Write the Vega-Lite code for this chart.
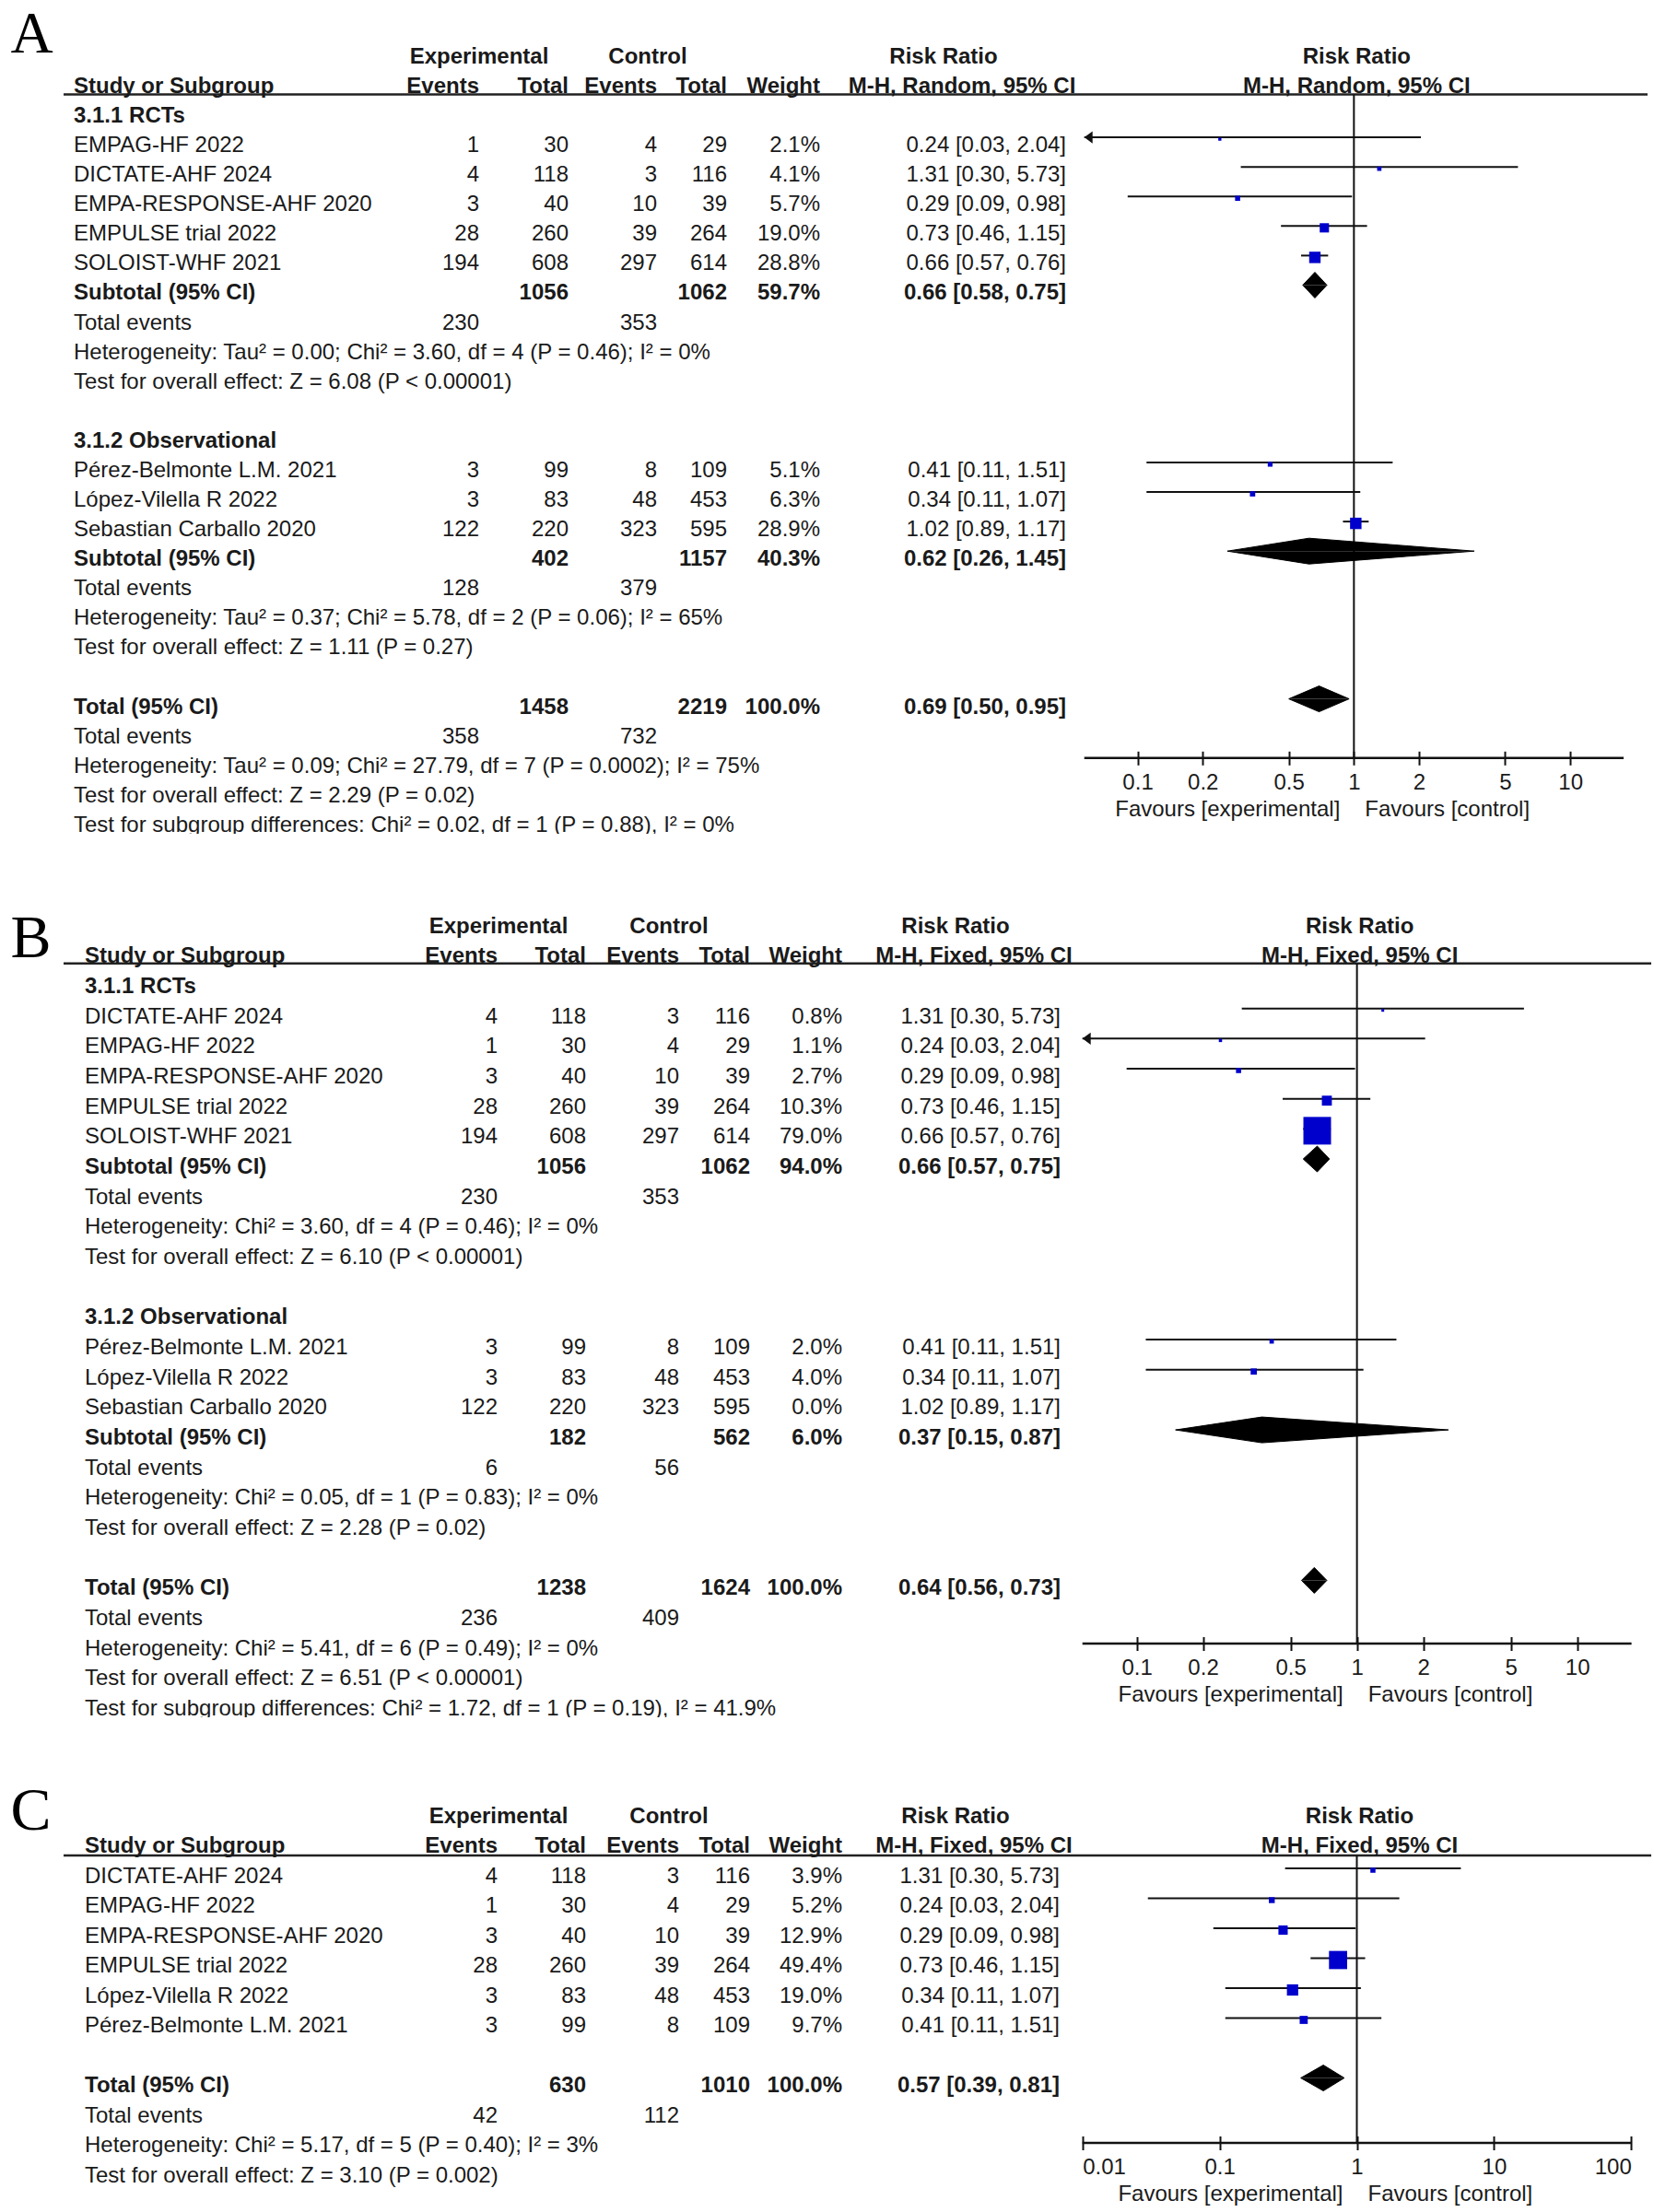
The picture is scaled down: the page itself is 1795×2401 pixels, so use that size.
{
"$schema":"https://vega.github.io/schema/vega-lite/v6.json",
"background":"white","padding":0,"bounds":"flush","spacing":0,
"resolve":{"scale":{"size":"independent","yOffset":"independent"}},
"config":{"view":{"stroke":null},"text":{"font":"Liberation Sans","fontSize":24,"color":"#1a1a1a","baseline":"alphabetic","dy":16}},
"datasets":{
"A":[
{"r":0,"k":"grp","l":"3.1.1 RCTs"},
{"r":1,"k":"st","l":"EMPAG-HF 2022","ee":1,"et":30,"ce":4,"ct":29,"w":0.021,"ci":"0.24 [0.03, 2.04]","rr":0.24,"lo":0.03,"hi":2.04},
{"r":2,"k":"st","l":"DICTATE-AHF 2024","ee":4,"et":118,"ce":3,"ct":116,"w":0.041,"ci":"1.31 [0.30, 5.73]","rr":1.31,"lo":0.30,"hi":5.73},
{"r":3,"k":"st","l":"EMPA-RESPONSE-AHF 2020","ee":3,"et":40,"ce":10,"ct":39,"w":0.057,"ci":"0.29 [0.09, 0.98]","rr":0.29,"lo":0.09,"hi":0.98},
{"r":4,"k":"st","l":"EMPULSE trial 2022","ee":28,"et":260,"ce":39,"ct":264,"w":0.19,"ci":"0.73 [0.46, 1.15]","rr":0.73,"lo":0.46,"hi":1.15},
{"r":5,"k":"st","l":"SOLOIST-WHF 2021","ee":194,"et":608,"ce":297,"ct":614,"w":0.288,"ci":"0.66 [0.57, 0.76]","rr":0.66,"lo":0.57,"hi":0.76},
{"r":6,"k":"sub","l":"Subtotal (95% CI)","et":1056,"ct":1062,"w":0.597,"ci":"0.66 [0.58, 0.75]"},
{"r":7,"k":"ev","l":"Total events","ee":230,"ce":353},
{"r":8,"k":"nt","l":"Heterogeneity: Tau² = 0.00; Chi² = 3.60, df = 4 (P = 0.46); I² = 0%"},
{"r":9,"k":"nt","l":"Test for overall effect: Z = 6.08 (P < 0.00001)"},
{"r":11,"k":"grp","l":"3.1.2 Observational"},
{"r":12,"k":"st","l":"Pérez-Belmonte L.M. 2021","ee":3,"et":99,"ce":8,"ct":109,"w":0.051,"ci":"0.41 [0.11, 1.51]","rr":0.41,"lo":0.11,"hi":1.51},
{"r":13,"k":"st","l":"López-Vilella R 2022","ee":3,"et":83,"ce":48,"ct":453,"w":0.063,"ci":"0.34 [0.11, 1.07]","rr":0.34,"lo":0.11,"hi":1.07},
{"r":14,"k":"st","l":"Sebastian Carballo 2020","ee":122,"et":220,"ce":323,"ct":595,"w":0.289,"ci":"1.02 [0.89, 1.17]","rr":1.02,"lo":0.89,"hi":1.17},
{"r":15,"k":"sub","l":"Subtotal (95% CI)","et":402,"ct":1157,"w":0.403,"ci":"0.62 [0.26, 1.45]"},
{"r":16,"k":"ev","l":"Total events","ee":128,"ce":379},
{"r":17,"k":"nt","l":"Heterogeneity: Tau² = 0.37; Chi² = 5.78, df = 2 (P = 0.06); I² = 65%"},
{"r":18,"k":"nt","l":"Test for overall effect: Z = 1.11 (P = 0.27)"},
{"r":20,"k":"tot","l":"Total (95% CI)","et":1458,"ct":2219,"w":1.0,"ci":"0.69 [0.50, 0.95]"},
{"r":21,"k":"ev","l":"Total events","ee":358,"ce":732},
{"r":22,"k":"nt","l":"Heterogeneity: Tau² = 0.09; Chi² = 27.79, df = 7 (P = 0.0002); I² = 75%"},
{"r":23,"k":"nt","l":"Test for overall effect: Z = 2.29 (P = 0.02)"},
{"r":24,"k":"nt","l":"Test for subgroup differences: Chi² = 0.02, df = 1 (P = 0.88), I² = 0%"}
],
"B":[
{"r":0,"k":"grp","l":"3.1.1 RCTs"},
{"r":1,"k":"st","l":"DICTATE-AHF 2024","ee":4,"et":118,"ce":3,"ct":116,"w":0.008,"ci":"1.31 [0.30, 5.73]","rr":1.31,"lo":0.30,"hi":5.73},
{"r":2,"k":"st","l":"EMPAG-HF 2022","ee":1,"et":30,"ce":4,"ct":29,"w":0.011,"ci":"0.24 [0.03, 2.04]","rr":0.24,"lo":0.03,"hi":2.04},
{"r":3,"k":"st","l":"EMPA-RESPONSE-AHF 2020","ee":3,"et":40,"ce":10,"ct":39,"w":0.027,"ci":"0.29 [0.09, 0.98]","rr":0.29,"lo":0.09,"hi":0.98},
{"r":4,"k":"st","l":"EMPULSE trial 2022","ee":28,"et":260,"ce":39,"ct":264,"w":0.103,"ci":"0.73 [0.46, 1.15]","rr":0.73,"lo":0.46,"hi":1.15},
{"r":5,"k":"st","l":"SOLOIST-WHF 2021","ee":194,"et":608,"ce":297,"ct":614,"w":0.79,"ci":"0.66 [0.57, 0.76]","rr":0.66,"lo":0.57,"hi":0.76},
{"r":6,"k":"sub","l":"Subtotal (95% CI)","et":1056,"ct":1062,"w":0.94,"ci":"0.66 [0.57, 0.75]"},
{"r":7,"k":"ev","l":"Total events","ee":230,"ce":353},
{"r":8,"k":"nt","l":"Heterogeneity: Chi² = 3.60, df = 4 (P = 0.46); I² = 0%"},
{"r":9,"k":"nt","l":"Test for overall effect: Z = 6.10 (P < 0.00001)"},
{"r":11,"k":"grp","l":"3.1.2 Observational"},
{"r":12,"k":"st","l":"Pérez-Belmonte L.M. 2021","ee":3,"et":99,"ce":8,"ct":109,"w":0.02,"ci":"0.41 [0.11, 1.51]","rr":0.41,"lo":0.11,"hi":1.51},
{"r":13,"k":"st","l":"López-Vilella R 2022","ee":3,"et":83,"ce":48,"ct":453,"w":0.04,"ci":"0.34 [0.11, 1.07]","rr":0.34,"lo":0.11,"hi":1.07},
{"r":14,"k":"st","l":"Sebastian Carballo 2020","ee":122,"et":220,"ce":323,"ct":595,"w":0.0,"ci":"1.02 [0.89, 1.17]","rr":1.02,"lo":0.89,"hi":1.17},
{"r":15,"k":"sub","l":"Subtotal (95% CI)","et":182,"ct":562,"w":0.06,"ci":"0.37 [0.15, 0.87]"},
{"r":16,"k":"ev","l":"Total events","ee":6,"ce":56},
{"r":17,"k":"nt","l":"Heterogeneity: Chi² = 0.05, df = 1 (P = 0.83); I² = 0%"},
{"r":18,"k":"nt","l":"Test for overall effect: Z = 2.28 (P = 0.02)"},
{"r":20,"k":"tot","l":"Total (95% CI)","et":1238,"ct":1624,"w":1.0,"ci":"0.64 [0.56, 0.73]"},
{"r":21,"k":"ev","l":"Total events","ee":236,"ce":409},
{"r":22,"k":"nt","l":"Heterogeneity: Chi² = 5.41, df = 6 (P = 0.49); I² = 0%"},
{"r":23,"k":"nt","l":"Test for overall effect: Z = 6.51 (P < 0.00001)"},
{"r":24,"k":"nt","l":"Test for subgroup differences: Chi² = 1.72, df = 1 (P = 0.19), I² = 41.9%"}
],
"C":[
{"r":0,"k":"st","l":"DICTATE-AHF 2024","ee":4,"et":118,"ce":3,"ct":116,"w":0.039,"ci":"1.31 [0.30, 5.73]","rr":1.31,"lo":0.30,"hi":5.73},
{"r":1,"k":"st","l":"EMPAG-HF 2022","ee":1,"et":30,"ce":4,"ct":29,"w":0.052,"ci":"0.24 [0.03, 2.04]","rr":0.24,"lo":0.03,"hi":2.04},
{"r":2,"k":"st","l":"EMPA-RESPONSE-AHF 2020","ee":3,"et":40,"ce":10,"ct":39,"w":0.129,"ci":"0.29 [0.09, 0.98]","rr":0.29,"lo":0.09,"hi":0.98},
{"r":3,"k":"st","l":"EMPULSE trial 2022","ee":28,"et":260,"ce":39,"ct":264,"w":0.494,"ci":"0.73 [0.46, 1.15]","rr":0.73,"lo":0.46,"hi":1.15},
{"r":4,"k":"st","l":"López-Vilella R 2022","ee":3,"et":83,"ce":48,"ct":453,"w":0.19,"ci":"0.34 [0.11, 1.07]","rr":0.34,"lo":0.11,"hi":1.07},
{"r":5,"k":"st","l":"Pérez-Belmonte L.M. 2021","ee":3,"et":99,"ce":8,"ct":109,"w":0.097,"ci":"0.41 [0.11, 1.51]","rr":0.41,"lo":0.11,"hi":1.51},
{"r":7,"k":"tot","l":"Total (95% CI)","et":630,"ct":1010,"w":1.0,"ci":"0.57 [0.39, 0.81]"},
{"r":8,"k":"ev","l":"Total events","ee":42,"ce":112},
{"r":9,"k":"nt","l":"Heterogeneity: Chi² = 5.17, df = 5 (P = 0.40); I² = 3%"},
{"r":10,"k":"nt","l":"Test for overall effect: Z = 3.10 (P = 0.002)"}
],
"dA":[
{"r":6,"v":"end","x":0.58},{"r":6,"v":"apex","x":0.66},{"r":6,"v":"end","x":0.75},
{"r":15,"v":"end","x":0.26},{"r":15,"v":"apex","x":0.62},{"r":15,"v":"end","x":3.6},
{"r":20,"v":"end","x":0.50},{"r":20,"v":"apex","x":0.69},{"r":20,"v":"end","x":0.95}
],
"dB":[
{"r":6,"v":"end","x":0.57},{"r":6,"v":"apex","x":0.66},{"r":6,"v":"end","x":0.75},
{"r":15,"v":"end","x":0.15},{"r":15,"v":"apex","x":0.37},{"r":15,"v":"end","x":2.6},
{"r":20,"v":"end","x":0.56},{"r":20,"v":"apex","x":0.64},{"r":20,"v":"end","x":0.73}
],
"dC":[
{"r":7,"v":"end","x":0.39},{"r":7,"v":"apex","x":0.57},{"r":7,"v":"end","x":0.81}
]
},
"vconcat":[
{
"width":1795,"height":905,"data":{"name":"A"},
"resolve":{"scale":{"x":"independent","y":"independent"},"axis":{"x":"independent","y":"independent"}},
"layer":[
{"layer":[
{"data":{"values":[{}]},"mark":{"type":"rule","strokeWidth":2.5,"color":"#222222"},"encoding":{"x":{"datum":0,"type":"quantitative","scale":{"domain":[0,1,2,3,4,5,6,7,8,9,10,11,12,13],"range":[69,80,520,617,713,789,890,1157,520,703,1024,1044,1788,11.5],"nice":false,"zero":false},"axis":null},"x2":{"datum":12},"y":{"datum":-0.45,"type":"quantitative","scale":{"domain":[-3.647,24.564],"reverse":true,"nice":false,"zero":false},"axis":null}}},
{"data":{"values":[{}]},"mark":{"type":"text","align":"left","font":"Liberation Serif","fontSize":64,"dy":0,"color":"#000000"},"encoding":{"x":{"datum":13,"type":"quantitative","scale":{"domain":[0,1,2,3,4,5,6,7,8,9,10,11,12,13],"range":[69,80,520,617,713,789,890,1157,520,703,1024,1044,1788,11.5],"nice":false,"zero":false},"axis":null},"y":{"datum":-1.87,"type":"quantitative","scale":{"domain":[-3.647,24.564],"reverse":true,"nice":false,"zero":false},"axis":null},"text":{"value":"A"}}},
{"data":{"values":[{}]},"mark":{"type":"text","align":"center","fontWeight":"bold"},"encoding":{"x":{"datum":8,"type":"quantitative","scale":{"domain":[0,1,2,3,4,5,6,7,8,9,10,11,12,13],"range":[69,80,520,617,713,789,890,1157,520,703,1024,1044,1788,11.5],"nice":false,"zero":false},"axis":null},"y":{"datum":-2,"type":"quantitative","scale":{"domain":[-3.647,24.564],"reverse":true,"nice":false,"zero":false},"axis":null},"text":{"value":"Experimental"}}},
{"data":{"values":[{}]},"mark":{"type":"text","align":"center","fontWeight":"bold"},"encoding":{"x":{"datum":9,"type":"quantitative","scale":{"domain":[0,1,2,3,4,5,6,7,8,9,10,11,12,13],"range":[69,80,520,617,713,789,890,1157,520,703,1024,1044,1788,11.5],"nice":false,"zero":false},"axis":null},"y":{"datum":-2,"type":"quantitative","scale":{"domain":[-3.647,24.564],"reverse":true,"nice":false,"zero":false},"axis":null},"text":{"value":"Control"}}},
{"data":{"values":[{}]},"mark":{"type":"text","align":"center","fontWeight":"bold"},"encoding":{"x":{"datum":10,"type":"quantitative","scale":{"domain":[0,1,2,3,4,5,6,7,8,9,10,11,12,13],"range":[69,80,520,617,713,789,890,1157,520,703,1024,1044,1788,11.5],"nice":false,"zero":false},"axis":null},"y":{"datum":-2,"type":"quantitative","scale":{"domain":[-3.647,24.564],"reverse":true,"nice":false,"zero":false},"axis":null},"text":{"value":"Risk Ratio"}}},
{"data":{"values":[{}]},"mark":{"type":"text","align":"left","fontWeight":"bold"},"encoding":{"x":{"datum":1,"type":"quantitative","scale":{"domain":[0,1,2,3,4,5,6,7,8,9,10,11,12,13],"range":[69,80,520,617,713,789,890,1157,520,703,1024,1044,1788,11.5],"nice":false,"zero":false},"axis":null},"y":{"datum":-1,"type":"quantitative","scale":{"domain":[-3.647,24.564],"reverse":true,"nice":false,"zero":false},"axis":null},"text":{"value":"Study or Subgroup"}}},
{"data":{"values":[{}]},"mark":{"type":"text","align":"right","fontWeight":"bold"},"encoding":{"x":{"datum":2,"type":"quantitative","scale":{"domain":[0,1,2,3,4,5,6,7,8,9,10,11,12,13],"range":[69,80,520,617,713,789,890,1157,520,703,1024,1044,1788,11.5],"nice":false,"zero":false},"axis":null},"y":{"datum":-1,"type":"quantitative","scale":{"domain":[-3.647,24.564],"reverse":true,"nice":false,"zero":false},"axis":null},"text":{"value":"Events"}}},
{"data":{"values":[{}]},"mark":{"type":"text","align":"right","fontWeight":"bold"},"encoding":{"x":{"datum":3,"type":"quantitative","scale":{"domain":[0,1,2,3,4,5,6,7,8,9,10,11,12,13],"range":[69,80,520,617,713,789,890,1157,520,703,1024,1044,1788,11.5],"nice":false,"zero":false},"axis":null},"y":{"datum":-1,"type":"quantitative","scale":{"domain":[-3.647,24.564],"reverse":true,"nice":false,"zero":false},"axis":null},"text":{"value":"Total"}}},
{"data":{"values":[{}]},"mark":{"type":"text","align":"right","fontWeight":"bold"},"encoding":{"x":{"datum":4,"type":"quantitative","scale":{"domain":[0,1,2,3,4,5,6,7,8,9,10,11,12,13],"range":[69,80,520,617,713,789,890,1157,520,703,1024,1044,1788,11.5],"nice":false,"zero":false},"axis":null},"y":{"datum":-1,"type":"quantitative","scale":{"domain":[-3.647,24.564],"reverse":true,"nice":false,"zero":false},"axis":null},"text":{"value":"Events"}}},
{"data":{"values":[{}]},"mark":{"type":"text","align":"right","fontWeight":"bold"},"encoding":{"x":{"datum":5,"type":"quantitative","scale":{"domain":[0,1,2,3,4,5,6,7,8,9,10,11,12,13],"range":[69,80,520,617,713,789,890,1157,520,703,1024,1044,1788,11.5],"nice":false,"zero":false},"axis":null},"y":{"datum":-1,"type":"quantitative","scale":{"domain":[-3.647,24.564],"reverse":true,"nice":false,"zero":false},"axis":null},"text":{"value":"Total"}}},
{"data":{"values":[{}]},"mark":{"type":"text","align":"right","fontWeight":"bold"},"encoding":{"x":{"datum":6,"type":"quantitative","scale":{"domain":[0,1,2,3,4,5,6,7,8,9,10,11,12,13],"range":[69,80,520,617,713,789,890,1157,520,703,1024,1044,1788,11.5],"nice":false,"zero":false},"axis":null},"y":{"datum":-1,"type":"quantitative","scale":{"domain":[-3.647,24.564],"reverse":true,"nice":false,"zero":false},"axis":null},"text":{"value":"Weight"}}},
{"data":{"values":[{}]},"mark":{"type":"text","align":"center","fontWeight":"bold"},"encoding":{"x":{"datum":11,"type":"quantitative","scale":{"domain":[0,1,2,3,4,5,6,7,8,9,10,11,12,13],"range":[69,80,520,617,713,789,890,1157,520,703,1024,1044,1788,11.5],"nice":false,"zero":false},"axis":null},"y":{"datum":-1,"type":"quantitative","scale":{"domain":[-3.647,24.564],"reverse":true,"nice":false,"zero":false},"axis":null},"text":{"value":"M-H, Random, 95% CI"}}},
{"transform":[{"filter":"datum.k=='st'||datum.k=='ev'||datum.k=='nt'"}],"mark":{"type":"text","align":"left","clip":true},"encoding":{"x":{"datum":1,"type":"quantitative","scale":{"domain":[0,1,2,3,4,5,6,7,8,9,10,11,12,13],"range":[69,80,520,617,713,789,890,1157,520,703,1024,1044,1788,11.5],"nice":false,"zero":false},"axis":null},"y":{"field":"r","type":"quantitative","scale":{"domain":[-3.647,24.564],"reverse":true,"nice":false,"zero":false},"axis":null},"text":{"field":"l","type":"nominal"}}},
{"transform":[{"filter":"datum.k=='grp'||datum.k=='sub'||datum.k=='tot'"}],"mark":{"type":"text","align":"left","fontWeight":"bold","clip":true},"encoding":{"x":{"datum":1,"type":"quantitative","scale":{"domain":[0,1,2,3,4,5,6,7,8,9,10,11,12,13],"range":[69,80,520,617,713,789,890,1157,520,703,1024,1044,1788,11.5],"nice":false,"zero":false},"axis":null},"y":{"field":"r","type":"quantitative","scale":{"domain":[-3.647,24.564],"reverse":true,"nice":false,"zero":false},"axis":null},"text":{"field":"l","type":"nominal"}}},
{"transform":[{"filter":"isValid(datum.ee)"}],"mark":{"type":"text","align":"right"},"encoding":{"x":{"datum":2,"type":"quantitative","scale":{"domain":[0,1,2,3,4,5,6,7,8,9,10,11,12,13],"range":[69,80,520,617,713,789,890,1157,520,703,1024,1044,1788,11.5],"nice":false,"zero":false},"axis":null},"y":{"field":"r","type":"quantitative","scale":{"domain":[-3.647,24.564],"reverse":true,"nice":false,"zero":false},"axis":null},"text":{"field":"ee","type":"nominal"}}},
{"transform":[{"filter":"datum.k=='st'"}],"mark":{"type":"text","align":"right"},"encoding":{"x":{"datum":3,"type":"quantitative","scale":{"domain":[0,1,2,3,4,5,6,7,8,9,10,11,12,13],"range":[69,80,520,617,713,789,890,1157,520,703,1024,1044,1788,11.5],"nice":false,"zero":false},"axis":null},"y":{"field":"r","type":"quantitative","scale":{"domain":[-3.647,24.564],"reverse":true,"nice":false,"zero":false},"axis":null},"text":{"field":"et","type":"nominal"}}},
{"transform":[{"filter":"datum.k=='sub'||datum.k=='tot'"}],"mark":{"type":"text","align":"right","fontWeight":"bold"},"encoding":{"x":{"datum":3,"type":"quantitative","scale":{"domain":[0,1,2,3,4,5,6,7,8,9,10,11,12,13],"range":[69,80,520,617,713,789,890,1157,520,703,1024,1044,1788,11.5],"nice":false,"zero":false},"axis":null},"y":{"field":"r","type":"quantitative","scale":{"domain":[-3.647,24.564],"reverse":true,"nice":false,"zero":false},"axis":null},"text":{"field":"et","type":"nominal"}}},
{"transform":[{"filter":"isValid(datum.ce)"}],"mark":{"type":"text","align":"right"},"encoding":{"x":{"datum":4,"type":"quantitative","scale":{"domain":[0,1,2,3,4,5,6,7,8,9,10,11,12,13],"range":[69,80,520,617,713,789,890,1157,520,703,1024,1044,1788,11.5],"nice":false,"zero":false},"axis":null},"y":{"field":"r","type":"quantitative","scale":{"domain":[-3.647,24.564],"reverse":true,"nice":false,"zero":false},"axis":null},"text":{"field":"ce","type":"nominal"}}},
{"transform":[{"filter":"datum.k=='st'"}],"mark":{"type":"text","align":"right"},"encoding":{"x":{"datum":5,"type":"quantitative","scale":{"domain":[0,1,2,3,4,5,6,7,8,9,10,11,12,13],"range":[69,80,520,617,713,789,890,1157,520,703,1024,1044,1788,11.5],"nice":false,"zero":false},"axis":null},"y":{"field":"r","type":"quantitative","scale":{"domain":[-3.647,24.564],"reverse":true,"nice":false,"zero":false},"axis":null},"text":{"field":"ct","type":"nominal"}}},
{"transform":[{"filter":"datum.k=='sub'||datum.k=='tot'"}],"mark":{"type":"text","align":"right","fontWeight":"bold"},"encoding":{"x":{"datum":5,"type":"quantitative","scale":{"domain":[0,1,2,3,4,5,6,7,8,9,10,11,12,13],"range":[69,80,520,617,713,789,890,1157,520,703,1024,1044,1788,11.5],"nice":false,"zero":false},"axis":null},"y":{"field":"r","type":"quantitative","scale":{"domain":[-3.647,24.564],"reverse":true,"nice":false,"zero":false},"axis":null},"text":{"field":"ct","type":"nominal"}}},
{"transform":[{"filter":"datum.k=='st'"}],"mark":{"type":"text","align":"right"},"encoding":{"x":{"datum":6,"type":"quantitative","scale":{"domain":[0,1,2,3,4,5,6,7,8,9,10,11,12,13],"range":[69,80,520,617,713,789,890,1157,520,703,1024,1044,1788,11.5],"nice":false,"zero":false},"axis":null},"y":{"field":"r","type":"quantitative","scale":{"domain":[-3.647,24.564],"reverse":true,"nice":false,"zero":false},"axis":null},"text":{"field":"w","type":"quantitative","format":".1%"}}},
{"transform":[{"filter":"datum.k=='sub'||datum.k=='tot'"}],"mark":{"type":"text","align":"right","fontWeight":"bold"},"encoding":{"x":{"datum":6,"type":"quantitative","scale":{"domain":[0,1,2,3,4,5,6,7,8,9,10,11,12,13],"range":[69,80,520,617,713,789,890,1157,520,703,1024,1044,1788,11.5],"nice":false,"zero":false},"axis":null},"y":{"field":"r","type":"quantitative","scale":{"domain":[-3.647,24.564],"reverse":true,"nice":false,"zero":false},"axis":null},"text":{"field":"w","type":"quantitative","format":".1%"}}},
{"transform":[{"filter":"datum.k=='st'"}],"mark":{"type":"text","align":"right"},"encoding":{"x":{"datum":7,"type":"quantitative","scale":{"domain":[0,1,2,3,4,5,6,7,8,9,10,11,12,13],"range":[69,80,520,617,713,789,890,1157,520,703,1024,1044,1788,11.5],"nice":false,"zero":false},"axis":null},"y":{"field":"r","type":"quantitative","scale":{"domain":[-3.647,24.564],"reverse":true,"nice":false,"zero":false},"axis":null},"text":{"field":"ci","type":"nominal"}}},
{"transform":[{"filter":"datum.k=='sub'||datum.k=='tot'"}],"mark":{"type":"text","align":"right","fontWeight":"bold"},"encoding":{"x":{"datum":7,"type":"quantitative","scale":{"domain":[0,1,2,3,4,5,6,7,8,9,10,11,12,13],"range":[69,80,520,617,713,789,890,1157,520,703,1024,1044,1788,11.5],"nice":false,"zero":false},"axis":null},"y":{"field":"r","type":"quantitative","scale":{"domain":[-3.647,24.564],"reverse":true,"nice":false,"zero":false},"axis":null},"text":{"field":"ci","type":"nominal"}}}
]},
{"layer":[
{"data":{"values":[{}]},"mark":{"type":"rule","strokeWidth":2,"color":"#111111"},"encoding":{"x":{"datum":1,"type":"quantitative","scale":{"type":"log","domain":[0.0567,17.64],"range":[1176.7,1762],"clamp":true,"nice":false},"axis":{"values":[0.1,0.2,0.5,1,2,5,10],"format":"~g","domain":false,"grid":false,"ticks":true,"tickSize":15,"tickWidth":2,"tickColor":"#111111","labelFont":"Liberation Sans","labelFontSize":24,"labelColor":"#1a1a1a","labelPadding":7,"labelFlush":2,"labelOverlap":false,"offset":-89.7,"title":null,"orient":"bottom"}},"y":{"datum":-0.45,"type":"quantitative","scale":{"domain":[-3.647,24.564],"reverse":true,"nice":false,"zero":false},"axis":null},"y2":{"datum":22.0}}},
{"data":{"values":[{}]},"mark":{"type":"rule","strokeWidth":2.5,"color":"#111111"},"encoding":{"x":{"datum":0.0567,"type":"quantitative","scale":{"type":"log","domain":[0.0567,17.64],"range":[1176.7,1762],"clamp":true,"nice":false},"axis":{"values":[0.1,0.2,0.5,1,2,5,10],"format":"~g","domain":false,"grid":false,"ticks":true,"tickSize":15,"tickWidth":2,"tickColor":"#111111","labelFont":"Liberation Sans","labelFontSize":24,"labelColor":"#1a1a1a","labelPadding":7,"labelFlush":2,"labelOverlap":false,"offset":-89.7,"title":null,"orient":"bottom"}},"x2":{"datum":17.64},"y":{"datum":22.0,"type":"quantitative","scale":{"domain":[-3.647,24.564],"reverse":true,"nice":false,"zero":false},"axis":null}}},
{"transform":[{"filter":"datum.k=='st'&&datum.w>0"}],"mark":{"type":"rule","strokeWidth":2,"color":"#111111"},"encoding":{"x":{"field":"lo","type":"quantitative","scale":{"type":"log","domain":[0.0567,17.64],"range":[1176.7,1762],"clamp":true,"nice":false},"axis":{"values":[0.1,0.2,0.5,1,2,5,10],"format":"~g","domain":false,"grid":false,"ticks":true,"tickSize":15,"tickWidth":2,"tickColor":"#111111","labelFont":"Liberation Sans","labelFontSize":24,"labelColor":"#1a1a1a","labelPadding":7,"labelFlush":2,"labelOverlap":false,"offset":-89.7,"title":null,"orient":"bottom"}},"x2":{"field":"hi"},"y":{"field":"r","type":"quantitative","scale":{"domain":[-3.647,24.564],"reverse":true,"nice":false,"zero":false},"axis":null}}},
{"transform":[{"filter":"datum.k=='st'&&datum.w>0"}],"mark":{"type":"square","filled":true,"color":"#0000cc","opacity":1,"yOffset":2},"encoding":{"x":{"field":"rr","type":"quantitative","scale":{"type":"log","domain":[0.0567,17.64],"range":[1176.7,1762],"clamp":true,"nice":false},"axis":{"values":[0.1,0.2,0.5,1,2,5,10],"format":"~g","domain":false,"grid":false,"ticks":true,"tickSize":15,"tickWidth":2,"tickColor":"#111111","labelFont":"Liberation Sans","labelFontSize":24,"labelColor":"#1a1a1a","labelPadding":7,"labelFlush":2,"labelOverlap":false,"offset":-89.7,"title":null,"orient":"bottom"}},"y":{"field":"r","type":"quantitative","scale":{"domain":[-3.647,24.564],"reverse":true,"nice":false,"zero":false},"axis":null},"size":{"field":"w","type":"quantitative","scale":{"domain":[0,0.3],"range":[0,160]},"legend":null}}},
{"transform":[{"filter":"datum.k=='st'&&datum.lo<0.0567"}],"mark":{"type":"point","shape":"M0,0L1.5,-1.1L1.5,1.1Z","filled":true,"color":"#111111","opacity":1,"size":144},"encoding":{"x":{"field":"lo","type":"quantitative","scale":{"type":"log","domain":[0.0567,17.64],"range":[1176.7,1762],"clamp":true,"nice":false},"axis":{"values":[0.1,0.2,0.5,1,2,5,10],"format":"~g","domain":false,"grid":false,"ticks":true,"tickSize":15,"tickWidth":2,"tickColor":"#111111","labelFont":"Liberation Sans","labelFontSize":24,"labelColor":"#1a1a1a","labelPadding":7,"labelFlush":2,"labelOverlap":false,"offset":-89.7,"title":null,"orient":"bottom"}},"y":{"field":"r","type":"quantitative","scale":{"domain":[-3.647,24.564],"reverse":true,"nice":false,"zero":false},"axis":null}}},
{"data":{"values":[{}]},"mark":{"type":"text","align":"center","fontWeight":"bold","dx":3},"encoding":{"x":{"datum":1,"type":"quantitative","scale":{"type":"log","domain":[0.0567,17.64],"range":[1176.7,1762],"clamp":true,"nice":false},"axis":{"values":[0.1,0.2,0.5,1,2,5,10],"format":"~g","domain":false,"grid":false,"ticks":true,"tickSize":15,"tickWidth":2,"tickColor":"#111111","labelFont":"Liberation Sans","labelFontSize":24,"labelColor":"#1a1a1a","labelPadding":7,"labelFlush":2,"labelOverlap":false,"offset":-89.7,"title":null,"orient":"bottom"}},"y":{"datum":-2,"type":"quantitative","scale":{"domain":[-3.647,24.564],"reverse":true,"nice":false,"zero":false},"axis":null},"text":{"value":"Risk Ratio"}}},
{"data":{"values":[{}]},"mark":{"type":"text","align":"center","fontWeight":"bold","dx":3},"encoding":{"x":{"datum":1,"type":"quantitative","scale":{"type":"log","domain":[0.0567,17.64],"range":[1176.7,1762],"clamp":true,"nice":false},"axis":{"values":[0.1,0.2,0.5,1,2,5,10],"format":"~g","domain":false,"grid":false,"ticks":true,"tickSize":15,"tickWidth":2,"tickColor":"#111111","labelFont":"Liberation Sans","labelFontSize":24,"labelColor":"#1a1a1a","labelPadding":7,"labelFlush":2,"labelOverlap":false,"offset":-89.7,"title":null,"orient":"bottom"}},"y":{"datum":-1,"type":"quantitative","scale":{"domain":[-3.647,24.564],"reverse":true,"nice":false,"zero":false},"axis":null},"text":{"value":"M-H, Random, 95% CI"}}},
{"data":{"values":[{}]},"mark":{"type":"text","align":"right","dx":-15,"dy":63},"encoding":{"x":{"datum":1,"type":"quantitative","scale":{"type":"log","domain":[0.0567,17.64],"range":[1176.7,1762],"clamp":true,"nice":false},"axis":{"values":[0.1,0.2,0.5,1,2,5,10],"format":"~g","domain":false,"grid":false,"ticks":true,"tickSize":15,"tickWidth":2,"tickColor":"#111111","labelFont":"Liberation Sans","labelFontSize":24,"labelColor":"#1a1a1a","labelPadding":7,"labelFlush":2,"labelOverlap":false,"offset":-89.7,"title":null,"orient":"bottom"}},"y":{"datum":22.0,"type":"quantitative","scale":{"domain":[-3.647,24.564],"reverse":true,"nice":false,"zero":false},"axis":null},"text":{"value":"Favours [experimental]"}}},
{"data":{"values":[{}]},"mark":{"type":"text","align":"left","dx":12,"dy":63},"encoding":{"x":{"datum":1,"type":"quantitative","scale":{"type":"log","domain":[0.0567,17.64],"range":[1176.7,1762],"clamp":true,"nice":false},"axis":{"values":[0.1,0.2,0.5,1,2,5,10],"format":"~g","domain":false,"grid":false,"ticks":true,"tickSize":15,"tickWidth":2,"tickColor":"#111111","labelFont":"Liberation Sans","labelFontSize":24,"labelColor":"#1a1a1a","labelPadding":7,"labelFlush":2,"labelOverlap":false,"offset":-89.7,"title":null,"orient":"bottom"}},"y":{"datum":22.0,"type":"quantitative","scale":{"domain":[-3.647,24.564],"reverse":true,"nice":false,"zero":false},"axis":null},"text":{"value":"Favours [control]"}}}
]},
{"data":{"name":"dA"},"resolve":{"scale":{"yOffset":"independent"}},"layer":[
{"mark":{"type":"line","color":"#000000","fill":"#000000","strokeWidth":1},"encoding":{"x":{"field":"x","type":"quantitative","scale":{"type":"log","domain":[0.0567,17.64],"range":[1176.7,1762],"clamp":true,"nice":false},"axis":null},"y":{"field":"r","type":"ordinal","scale":{"type":"point","domain":[0,1,2,3,4,5,6,7,8,9,10,11,12,13,14,15,16,17,18,19,20,21,22,23,24],"range":[117,886.9],"padding":0},"axis":null},"yOffset":{"field":"v","type":"nominal","scale":{"type":"point","domain":["end","apex"],"range":[0,-14],"padding":0}},"detail":{"field":"r","type":"nominal"},"order":{"field":"x","type":"quantitative"}}},
{"mark":{"type":"line","color":"#000000","fill":"#000000","strokeWidth":1},"encoding":{"x":{"field":"x","type":"quantitative","scale":{"type":"log","domain":[0.0567,17.64],"range":[1176.7,1762],"clamp":true,"nice":false},"axis":null},"y":{"field":"r","type":"ordinal","scale":{"type":"point","domain":[0,1,2,3,4,5,6,7,8,9,10,11,12,13,14,15,16,17,18,19,20,21,22,23,24],"range":[117,886.9],"padding":0},"axis":null},"yOffset":{"field":"v","type":"nominal","scale":{"type":"point","domain":["end","apex"],"range":[0,14],"padding":0}},"detail":{"field":"r","type":"nominal"},"order":{"field":"x","type":"quantitative"}}}
]}
]
},
{
"width":1795,"height":959,"data":{"name":"B"},
"resolve":{"scale":{"x":"independent","y":"independent"},"axis":{"x":"independent","y":"independent"}},
"layer":[
{"layer":[
{"data":{"values":[{}]},"mark":{"type":"rule","strokeWidth":2.5,"color":"#222222"},"encoding":{"x":{"datum":0,"type":"quantitative","scale":{"domain":[0,1,2,3,4,5,6,7,8,9,10,11,12,13],"range":[69,92,540,636,737,814,914,1151,541,726,1037,1057,1792,11.5],"nice":false,"zero":false},"axis":null},"x2":{"datum":12},"y":{"datum":-0.5,"type":"quantitative","scale":{"domain":[-4.806,24.548],"reverse":true,"nice":false,"zero":false},"axis":null}}},
{"data":{"values":[{}]},"mark":{"type":"text","align":"left","font":"Liberation Serif","fontSize":66,"dy":0,"color":"#000000"},"encoding":{"x":{"datum":13,"type":"quantitative","scale":{"domain":[0,1,2,3,4,5,6,7,8,9,10,11,12,13],"range":[69,92,540,636,737,814,914,1151,541,726,1037,1057,1792,11.5],"nice":false,"zero":false},"axis":null},"y":{"datum":-0.7,"type":"quantitative","scale":{"domain":[-4.806,24.548],"reverse":true,"nice":false,"zero":false},"axis":null},"text":{"value":"B"}}},
{"data":{"values":[{}]},"mark":{"type":"text","align":"center","fontWeight":"bold"},"encoding":{"x":{"datum":8,"type":"quantitative","scale":{"domain":[0,1,2,3,4,5,6,7,8,9,10,11,12,13],"range":[69,92,540,636,737,814,914,1151,541,726,1037,1057,1792,11.5],"nice":false,"zero":false},"axis":null},"y":{"datum":-2,"type":"quantitative","scale":{"domain":[-4.806,24.548],"reverse":true,"nice":false,"zero":false},"axis":null},"text":{"value":"Experimental"}}},
{"data":{"values":[{}]},"mark":{"type":"text","align":"center","fontWeight":"bold"},"encoding":{"x":{"datum":9,"type":"quantitative","scale":{"domain":[0,1,2,3,4,5,6,7,8,9,10,11,12,13],"range":[69,92,540,636,737,814,914,1151,541,726,1037,1057,1792,11.5],"nice":false,"zero":false},"axis":null},"y":{"datum":-2,"type":"quantitative","scale":{"domain":[-4.806,24.548],"reverse":true,"nice":false,"zero":false},"axis":null},"text":{"value":"Control"}}},
{"data":{"values":[{}]},"mark":{"type":"text","align":"center","fontWeight":"bold"},"encoding":{"x":{"datum":10,"type":"quantitative","scale":{"domain":[0,1,2,3,4,5,6,7,8,9,10,11,12,13],"range":[69,92,540,636,737,814,914,1151,541,726,1037,1057,1792,11.5],"nice":false,"zero":false},"axis":null},"y":{"datum":-2,"type":"quantitative","scale":{"domain":[-4.806,24.548],"reverse":true,"nice":false,"zero":false},"axis":null},"text":{"value":"Risk Ratio"}}},
{"data":{"values":[{}]},"mark":{"type":"text","align":"left","fontWeight":"bold"},"encoding":{"x":{"datum":1,"type":"quantitative","scale":{"domain":[0,1,2,3,4,5,6,7,8,9,10,11,12,13],"range":[69,92,540,636,737,814,914,1151,541,726,1037,1057,1792,11.5],"nice":false,"zero":false},"axis":null},"y":{"datum":-1,"type":"quantitative","scale":{"domain":[-4.806,24.548],"reverse":true,"nice":false,"zero":false},"axis":null},"text":{"value":"Study or Subgroup"}}},
{"data":{"values":[{}]},"mark":{"type":"text","align":"right","fontWeight":"bold"},"encoding":{"x":{"datum":2,"type":"quantitative","scale":{"domain":[0,1,2,3,4,5,6,7,8,9,10,11,12,13],"range":[69,92,540,636,737,814,914,1151,541,726,1037,1057,1792,11.5],"nice":false,"zero":false},"axis":null},"y":{"datum":-1,"type":"quantitative","scale":{"domain":[-4.806,24.548],"reverse":true,"nice":false,"zero":false},"axis":null},"text":{"value":"Events"}}},
{"data":{"values":[{}]},"mark":{"type":"text","align":"right","fontWeight":"bold"},"encoding":{"x":{"datum":3,"type":"quantitative","scale":{"domain":[0,1,2,3,4,5,6,7,8,9,10,11,12,13],"range":[69,92,540,636,737,814,914,1151,541,726,1037,1057,1792,11.5],"nice":false,"zero":false},"axis":null},"y":{"datum":-1,"type":"quantitative","scale":{"domain":[-4.806,24.548],"reverse":true,"nice":false,"zero":false},"axis":null},"text":{"value":"Total"}}},
{"data":{"values":[{}]},"mark":{"type":"text","align":"right","fontWeight":"bold"},"encoding":{"x":{"datum":4,"type":"quantitative","scale":{"domain":[0,1,2,3,4,5,6,7,8,9,10,11,12,13],"range":[69,92,540,636,737,814,914,1151,541,726,1037,1057,1792,11.5],"nice":false,"zero":false},"axis":null},"y":{"datum":-1,"type":"quantitative","scale":{"domain":[-4.806,24.548],"reverse":true,"nice":false,"zero":false},"axis":null},"text":{"value":"Events"}}},
{"data":{"values":[{}]},"mark":{"type":"text","align":"right","fontWeight":"bold"},"encoding":{"x":{"datum":5,"type":"quantitative","scale":{"domain":[0,1,2,3,4,5,6,7,8,9,10,11,12,13],"range":[69,92,540,636,737,814,914,1151,541,726,1037,1057,1792,11.5],"nice":false,"zero":false},"axis":null},"y":{"datum":-1,"type":"quantitative","scale":{"domain":[-4.806,24.548],"reverse":true,"nice":false,"zero":false},"axis":null},"text":{"value":"Total"}}},
{"data":{"values":[{}]},"mark":{"type":"text","align":"right","fontWeight":"bold"},"encoding":{"x":{"datum":6,"type":"quantitative","scale":{"domain":[0,1,2,3,4,5,6,7,8,9,10,11,12,13],"range":[69,92,540,636,737,814,914,1151,541,726,1037,1057,1792,11.5],"nice":false,"zero":false},"axis":null},"y":{"datum":-1,"type":"quantitative","scale":{"domain":[-4.806,24.548],"reverse":true,"nice":false,"zero":false},"axis":null},"text":{"value":"Weight"}}},
{"data":{"values":[{}]},"mark":{"type":"text","align":"center","fontWeight":"bold"},"encoding":{"x":{"datum":11,"type":"quantitative","scale":{"domain":[0,1,2,3,4,5,6,7,8,9,10,11,12,13],"range":[69,92,540,636,737,814,914,1151,541,726,1037,1057,1792,11.5],"nice":false,"zero":false},"axis":null},"y":{"datum":-1,"type":"quantitative","scale":{"domain":[-4.806,24.548],"reverse":true,"nice":false,"zero":false},"axis":null},"text":{"value":"M-H, Fixed, 95% CI"}}},
{"transform":[{"filter":"datum.k=='st'||datum.k=='ev'||datum.k=='nt'"}],"mark":{"type":"text","align":"left","clip":true},"encoding":{"x":{"datum":1,"type":"quantitative","scale":{"domain":[0,1,2,3,4,5,6,7,8,9,10,11,12,13],"range":[69,92,540,636,737,814,914,1151,541,726,1037,1057,1792,11.5],"nice":false,"zero":false},"axis":null},"y":{"field":"r","type":"quantitative","scale":{"domain":[-4.806,24.548],"reverse":true,"nice":false,"zero":false},"axis":null},"text":{"field":"l","type":"nominal"}}},
{"transform":[{"filter":"datum.k=='grp'||datum.k=='sub'||datum.k=='tot'"}],"mark":{"type":"text","align":"left","fontWeight":"bold","clip":true},"encoding":{"x":{"datum":1,"type":"quantitative","scale":{"domain":[0,1,2,3,4,5,6,7,8,9,10,11,12,13],"range":[69,92,540,636,737,814,914,1151,541,726,1037,1057,1792,11.5],"nice":false,"zero":false},"axis":null},"y":{"field":"r","type":"quantitative","scale":{"domain":[-4.806,24.548],"reverse":true,"nice":false,"zero":false},"axis":null},"text":{"field":"l","type":"nominal"}}},
{"transform":[{"filter":"isValid(datum.ee)"}],"mark":{"type":"text","align":"right"},"encoding":{"x":{"datum":2,"type":"quantitative","scale":{"domain":[0,1,2,3,4,5,6,7,8,9,10,11,12,13],"range":[69,92,540,636,737,814,914,1151,541,726,1037,1057,1792,11.5],"nice":false,"zero":false},"axis":null},"y":{"field":"r","type":"quantitative","scale":{"domain":[-4.806,24.548],"reverse":true,"nice":false,"zero":false},"axis":null},"text":{"field":"ee","type":"nominal"}}},
{"transform":[{"filter":"datum.k=='st'"}],"mark":{"type":"text","align":"right"},"encoding":{"x":{"datum":3,"type":"quantitative","scale":{"domain":[0,1,2,3,4,5,6,7,8,9,10,11,12,13],"range":[69,92,540,636,737,814,914,1151,541,726,1037,1057,1792,11.5],"nice":false,"zero":false},"axis":null},"y":{"field":"r","type":"quantitative","scale":{"domain":[-4.806,24.548],"reverse":true,"nice":false,"zero":false},"axis":null},"text":{"field":"et","type":"nominal"}}},
{"transform":[{"filter":"datum.k=='sub'||datum.k=='tot'"}],"mark":{"type":"text","align":"right","fontWeight":"bold"},"encoding":{"x":{"datum":3,"type":"quantitative","scale":{"domain":[0,1,2,3,4,5,6,7,8,9,10,11,12,13],"range":[69,92,540,636,737,814,914,1151,541,726,1037,1057,1792,11.5],"nice":false,"zero":false},"axis":null},"y":{"field":"r","type":"quantitative","scale":{"domain":[-4.806,24.548],"reverse":true,"nice":false,"zero":false},"axis":null},"text":{"field":"et","type":"nominal"}}},
{"transform":[{"filter":"isValid(datum.ce)"}],"mark":{"type":"text","align":"right"},"encoding":{"x":{"datum":4,"type":"quantitative","scale":{"domain":[0,1,2,3,4,5,6,7,8,9,10,11,12,13],"range":[69,92,540,636,737,814,914,1151,541,726,1037,1057,1792,11.5],"nice":false,"zero":false},"axis":null},"y":{"field":"r","type":"quantitative","scale":{"domain":[-4.806,24.548],"reverse":true,"nice":false,"zero":false},"axis":null},"text":{"field":"ce","type":"nominal"}}},
{"transform":[{"filter":"datum.k=='st'"}],"mark":{"type":"text","align":"right"},"encoding":{"x":{"datum":5,"type":"quantitative","scale":{"domain":[0,1,2,3,4,5,6,7,8,9,10,11,12,13],"range":[69,92,540,636,737,814,914,1151,541,726,1037,1057,1792,11.5],"nice":false,"zero":false},"axis":null},"y":{"field":"r","type":"quantitative","scale":{"domain":[-4.806,24.548],"reverse":true,"nice":false,"zero":false},"axis":null},"text":{"field":"ct","type":"nominal"}}},
{"transform":[{"filter":"datum.k=='sub'||datum.k=='tot'"}],"mark":{"type":"text","align":"right","fontWeight":"bold"},"encoding":{"x":{"datum":5,"type":"quantitative","scale":{"domain":[0,1,2,3,4,5,6,7,8,9,10,11,12,13],"range":[69,92,540,636,737,814,914,1151,541,726,1037,1057,1792,11.5],"nice":false,"zero":false},"axis":null},"y":{"field":"r","type":"quantitative","scale":{"domain":[-4.806,24.548],"reverse":true,"nice":false,"zero":false},"axis":null},"text":{"field":"ct","type":"nominal"}}},
{"transform":[{"filter":"datum.k=='st'"}],"mark":{"type":"text","align":"right"},"encoding":{"x":{"datum":6,"type":"quantitative","scale":{"domain":[0,1,2,3,4,5,6,7,8,9,10,11,12,13],"range":[69,92,540,636,737,814,914,1151,541,726,1037,1057,1792,11.5],"nice":false,"zero":false},"axis":null},"y":{"field":"r","type":"quantitative","scale":{"domain":[-4.806,24.548],"reverse":true,"nice":false,"zero":false},"axis":null},"text":{"field":"w","type":"quantitative","format":".1%"}}},
{"transform":[{"filter":"datum.k=='sub'||datum.k=='tot'"}],"mark":{"type":"text","align":"right","fontWeight":"bold"},"encoding":{"x":{"datum":6,"type":"quantitative","scale":{"domain":[0,1,2,3,4,5,6,7,8,9,10,11,12,13],"range":[69,92,540,636,737,814,914,1151,541,726,1037,1057,1792,11.5],"nice":false,"zero":false},"axis":null},"y":{"field":"r","type":"quantitative","scale":{"domain":[-4.806,24.548],"reverse":true,"nice":false,"zero":false},"axis":null},"text":{"field":"w","type":"quantitative","format":".1%"}}},
{"transform":[{"filter":"datum.k=='st'"}],"mark":{"type":"text","align":"right"},"encoding":{"x":{"datum":7,"type":"quantitative","scale":{"domain":[0,1,2,3,4,5,6,7,8,9,10,11,12,13],"range":[69,92,540,636,737,814,914,1151,541,726,1037,1057,1792,11.5],"nice":false,"zero":false},"axis":null},"y":{"field":"r","type":"quantitative","scale":{"domain":[-4.806,24.548],"reverse":true,"nice":false,"zero":false},"axis":null},"text":{"field":"ci","type":"nominal"}}},
{"transform":[{"filter":"datum.k=='sub'||datum.k=='tot'"}],"mark":{"type":"text","align":"right","fontWeight":"bold"},"encoding":{"x":{"datum":7,"type":"quantitative","scale":{"domain":[0,1,2,3,4,5,6,7,8,9,10,11,12,13],"range":[69,92,540,636,737,814,914,1151,541,726,1037,1057,1792,11.5],"nice":false,"zero":false},"axis":null},"y":{"field":"r","type":"quantitative","scale":{"domain":[-4.806,24.548],"reverse":true,"nice":false,"zero":false},"axis":null},"text":{"field":"ci","type":"nominal"}}}
]},
{"layer":[
{"data":{"values":[{}]},"mark":{"type":"rule","strokeWidth":2,"color":"#111111"},"encoding":{"x":{"datum":1,"type":"quantitative","scale":{"type":"log","domain":[0.0567,17.64],"range":[1174.7,1770.6],"clamp":true,"nice":false},"axis":{"values":[0.1,0.2,0.5,1,2,5,10],"format":"~g","domain":false,"grid":false,"ticks":true,"tickSize":15,"tickWidth":2,"tickColor":"#111111","labelFont":"Liberation Sans","labelFontSize":24,"labelColor":"#1a1a1a","labelPadding":7,"labelFlush":2,"labelOverlap":false,"offset":-87.5,"title":null,"orient":"bottom"}},"y":{"datum":-0.5,"type":"quantitative","scale":{"domain":[-4.806,24.548],"reverse":true,"nice":false,"zero":false},"axis":null},"y2":{"datum":22.1}}},
{"data":{"values":[{}]},"mark":{"type":"rule","strokeWidth":2.5,"color":"#111111"},"encoding":{"x":{"datum":0.0567,"type":"quantitative","scale":{"type":"log","domain":[0.0567,17.64],"range":[1174.7,1770.6],"clamp":true,"nice":false},"axis":{"values":[0.1,0.2,0.5,1,2,5,10],"format":"~g","domain":false,"grid":false,"ticks":true,"tickSize":15,"tickWidth":2,"tickColor":"#111111","labelFont":"Liberation Sans","labelFontSize":24,"labelColor":"#1a1a1a","labelPadding":7,"labelFlush":2,"labelOverlap":false,"offset":-87.5,"title":null,"orient":"bottom"}},"x2":{"datum":17.64},"y":{"datum":22.1,"type":"quantitative","scale":{"domain":[-4.806,24.548],"reverse":true,"nice":false,"zero":false},"axis":null}}},
{"transform":[{"filter":"datum.k=='st'&&datum.w>0"}],"mark":{"type":"rule","strokeWidth":2,"color":"#111111"},"encoding":{"x":{"field":"lo","type":"quantitative","scale":{"type":"log","domain":[0.0567,17.64],"range":[1174.7,1770.6],"clamp":true,"nice":false},"axis":{"values":[0.1,0.2,0.5,1,2,5,10],"format":"~g","domain":false,"grid":false,"ticks":true,"tickSize":15,"tickWidth":2,"tickColor":"#111111","labelFont":"Liberation Sans","labelFontSize":24,"labelColor":"#1a1a1a","labelPadding":7,"labelFlush":2,"labelOverlap":false,"offset":-87.5,"title":null,"orient":"bottom"}},"x2":{"field":"hi"},"y":{"field":"r","type":"quantitative","scale":{"domain":[-4.806,24.548],"reverse":true,"nice":false,"zero":false},"axis":null}}},
{"transform":[{"filter":"datum.k=='st'&&datum.w>0"}],"mark":{"type":"square","filled":true,"color":"#0000cc","opacity":1,"yOffset":2},"encoding":{"x":{"field":"rr","type":"quantitative","scale":{"type":"log","domain":[0.0567,17.64],"range":[1174.7,1770.6],"clamp":true,"nice":false},"axis":{"values":[0.1,0.2,0.5,1,2,5,10],"format":"~g","domain":false,"grid":false,"ticks":true,"tickSize":15,"tickWidth":2,"tickColor":"#111111","labelFont":"Liberation Sans","labelFontSize":24,"labelColor":"#1a1a1a","labelPadding":7,"labelFlush":2,"labelOverlap":false,"offset":-87.5,"title":null,"orient":"bottom"}},"y":{"field":"r","type":"quantitative","scale":{"domain":[-4.806,24.548],"reverse":true,"nice":false,"zero":false},"axis":null},"size":{"field":"w","type":"quantitative","scale":{"domain":[0,0.79],"range":[0,900]},"legend":null}}},
{"transform":[{"filter":"datum.k=='st'&&datum.lo<0.0567"}],"mark":{"type":"point","shape":"M0,0L1.5,-1.1L1.5,1.1Z","filled":true,"color":"#111111","opacity":1,"size":144},"encoding":{"x":{"field":"lo","type":"quantitative","scale":{"type":"log","domain":[0.0567,17.64],"range":[1174.7,1770.6],"clamp":true,"nice":false},"axis":{"values":[0.1,0.2,0.5,1,2,5,10],"format":"~g","domain":false,"grid":false,"ticks":true,"tickSize":15,"tickWidth":2,"tickColor":"#111111","labelFont":"Liberation Sans","labelFontSize":24,"labelColor":"#1a1a1a","labelPadding":7,"labelFlush":2,"labelOverlap":false,"offset":-87.5,"title":null,"orient":"bottom"}},"y":{"field":"r","type":"quantitative","scale":{"domain":[-4.806,24.548],"reverse":true,"nice":false,"zero":false},"axis":null}}},
{"data":{"values":[{}]},"mark":{"type":"text","align":"center","fontWeight":"bold","dx":3},"encoding":{"x":{"datum":1,"type":"quantitative","scale":{"type":"log","domain":[0.0567,17.64],"range":[1174.7,1770.6],"clamp":true,"nice":false},"axis":{"values":[0.1,0.2,0.5,1,2,5,10],"format":"~g","domain":false,"grid":false,"ticks":true,"tickSize":15,"tickWidth":2,"tickColor":"#111111","labelFont":"Liberation Sans","labelFontSize":24,"labelColor":"#1a1a1a","labelPadding":7,"labelFlush":2,"labelOverlap":false,"offset":-87.5,"title":null,"orient":"bottom"}},"y":{"datum":-2,"type":"quantitative","scale":{"domain":[-4.806,24.548],"reverse":true,"nice":false,"zero":false},"axis":null},"text":{"value":"Risk Ratio"}}},
{"data":{"values":[{}]},"mark":{"type":"text","align":"center","fontWeight":"bold","dx":3},"encoding":{"x":{"datum":1,"type":"quantitative","scale":{"type":"log","domain":[0.0567,17.64],"range":[1174.7,1770.6],"clamp":true,"nice":false},"axis":{"values":[0.1,0.2,0.5,1,2,5,10],"format":"~g","domain":false,"grid":false,"ticks":true,"tickSize":15,"tickWidth":2,"tickColor":"#111111","labelFont":"Liberation Sans","labelFontSize":24,"labelColor":"#1a1a1a","labelPadding":7,"labelFlush":2,"labelOverlap":false,"offset":-87.5,"title":null,"orient":"bottom"}},"y":{"datum":-1,"type":"quantitative","scale":{"domain":[-4.806,24.548],"reverse":true,"nice":false,"zero":false},"axis":null},"text":{"value":"M-H, Fixed, 95% CI"}}},
{"data":{"values":[{}]},"mark":{"type":"text","align":"right","dx":-15,"dy":63},"encoding":{"x":{"datum":1,"type":"quantitative","scale":{"type":"log","domain":[0.0567,17.64],"range":[1174.7,1770.6],"clamp":true,"nice":false},"axis":{"values":[0.1,0.2,0.5,1,2,5,10],"format":"~g","domain":false,"grid":false,"ticks":true,"tickSize":15,"tickWidth":2,"tickColor":"#111111","labelFont":"Liberation Sans","labelFontSize":24,"labelColor":"#1a1a1a","labelPadding":7,"labelFlush":2,"labelOverlap":false,"offset":-87.5,"title":null,"orient":"bottom"}},"y":{"datum":22.1,"type":"quantitative","scale":{"domain":[-4.806,24.548],"reverse":true,"nice":false,"zero":false},"axis":null},"text":{"value":"Favours [experimental]"}}},
{"data":{"values":[{}]},"mark":{"type":"text","align":"left","dx":12,"dy":63},"encoding":{"x":{"datum":1,"type":"quantitative","scale":{"type":"log","domain":[0.0567,17.64],"range":[1174.7,1770.6],"clamp":true,"nice":false},"axis":{"values":[0.1,0.2,0.5,1,2,5,10],"format":"~g","domain":false,"grid":false,"ticks":true,"tickSize":15,"tickWidth":2,"tickColor":"#111111","labelFont":"Liberation Sans","labelFontSize":24,"labelColor":"#1a1a1a","labelPadding":7,"labelFlush":2,"labelOverlap":false,"offset":-87.5,"title":null,"orient":"bottom"}},"y":{"datum":22.1,"type":"quantitative","scale":{"domain":[-4.806,24.548],"reverse":true,"nice":false,"zero":false},"axis":null},"text":{"value":"Favours [control]"}}}
]},
{"data":{"name":"dB"},"resolve":{"scale":{"yOffset":"independent"}},"layer":[
{"mark":{"type":"line","color":"#000000","fill":"#000000","strokeWidth":1},"encoding":{"x":{"field":"x","type":"quantitative","scale":{"type":"log","domain":[0.0567,17.64],"range":[1174.7,1770.6],"clamp":true,"nice":false},"axis":null},"y":{"field":"r","type":"ordinal","scale":{"type":"point","domain":[0,1,2,3,4,5,6,7,8,9,10,11,12,13,14,15,16,17,18,19,20,21,22,23,24],"range":[157,941.1],"padding":0},"axis":null},"yOffset":{"field":"v","type":"nominal","scale":{"type":"point","domain":["end","apex"],"range":[0,-14],"padding":0}},"detail":{"field":"r","type":"nominal"},"order":{"field":"x","type":"quantitative"}}},
{"mark":{"type":"line","color":"#000000","fill":"#000000","strokeWidth":1},"encoding":{"x":{"field":"x","type":"quantitative","scale":{"type":"log","domain":[0.0567,17.64],"range":[1174.7,1770.6],"clamp":true,"nice":false},"axis":null},"y":{"field":"r","type":"ordinal","scale":{"type":"point","domain":[0,1,2,3,4,5,6,7,8,9,10,11,12,13,14,15,16,17,18,19,20,21,22,23,24],"range":[157,941.1],"padding":0},"axis":null},"yOffset":{"field":"v","type":"nominal","scale":{"type":"point","domain":["end","apex"],"range":[0,14],"padding":0}},"detail":{"field":"r","type":"nominal"},"order":{"field":"x","type":"quantitative"}}}
]}
]
},
{
"width":1795,"height":537,"data":{"name":"C"},
"resolve":{"scale":{"x":"independent","y":"independent"},"axis":{"x":"independent","y":"independent"}},
"layer":[
{"layer":[
{"data":{"values":[{}]},"mark":{"type":"rule","strokeWidth":2.5,"color":"#222222"},"encoding":{"x":{"datum":0,"type":"quantitative","scale":{"domain":[0,1,2,3,4,5,6,7,8,9,10,11,12,13],"range":[69,92,540,636,737,814,914,1150,541,726,1037,1057,1792,11.5],"nice":false,"zero":false},"axis":null},"x2":{"datum":12},"y":{"datum":-0.43,"type":"quantitative","scale":{"domain":[-5.046,11.477],"reverse":true,"nice":false,"zero":false},"axis":null}}},
{"data":{"values":[{}]},"mark":{"type":"text","align":"left","font":"Liberation Serif","fontSize":66,"dy":0,"color":"#000000"},"encoding":{"x":{"datum":13,"type":"quantitative","scale":{"domain":[0,1,2,3,4,5,6,7,8,9,10,11,12,13],"range":[69,92,540,636,737,814,914,1150,541,726,1037,1057,1792,11.5],"nice":false,"zero":false},"axis":null},"y":{"datum":-1.29,"type":"quantitative","scale":{"domain":[-5.046,11.477],"reverse":true,"nice":false,"zero":false},"axis":null},"text":{"value":"C"}}},
{"data":{"values":[{}]},"mark":{"type":"text","align":"center","fontWeight":"bold"},"encoding":{"x":{"datum":8,"type":"quantitative","scale":{"domain":[0,1,2,3,4,5,6,7,8,9,10,11,12,13],"range":[69,92,540,636,737,814,914,1150,541,726,1037,1057,1792,11.5],"nice":false,"zero":false},"axis":null},"y":{"datum":-2,"type":"quantitative","scale":{"domain":[-5.046,11.477],"reverse":true,"nice":false,"zero":false},"axis":null},"text":{"value":"Experimental"}}},
{"data":{"values":[{}]},"mark":{"type":"text","align":"center","fontWeight":"bold"},"encoding":{"x":{"datum":9,"type":"quantitative","scale":{"domain":[0,1,2,3,4,5,6,7,8,9,10,11,12,13],"range":[69,92,540,636,737,814,914,1150,541,726,1037,1057,1792,11.5],"nice":false,"zero":false},"axis":null},"y":{"datum":-2,"type":"quantitative","scale":{"domain":[-5.046,11.477],"reverse":true,"nice":false,"zero":false},"axis":null},"text":{"value":"Control"}}},
{"data":{"values":[{}]},"mark":{"type":"text","align":"center","fontWeight":"bold"},"encoding":{"x":{"datum":10,"type":"quantitative","scale":{"domain":[0,1,2,3,4,5,6,7,8,9,10,11,12,13],"range":[69,92,540,636,737,814,914,1150,541,726,1037,1057,1792,11.5],"nice":false,"zero":false},"axis":null},"y":{"datum":-2,"type":"quantitative","scale":{"domain":[-5.046,11.477],"reverse":true,"nice":false,"zero":false},"axis":null},"text":{"value":"Risk Ratio"}}},
{"data":{"values":[{}]},"mark":{"type":"text","align":"left","fontWeight":"bold"},"encoding":{"x":{"datum":1,"type":"quantitative","scale":{"domain":[0,1,2,3,4,5,6,7,8,9,10,11,12,13],"range":[69,92,540,636,737,814,914,1150,541,726,1037,1057,1792,11.5],"nice":false,"zero":false},"axis":null},"y":{"datum":-1,"type":"quantitative","scale":{"domain":[-5.046,11.477],"reverse":true,"nice":false,"zero":false},"axis":null},"text":{"value":"Study or Subgroup"}}},
{"data":{"values":[{}]},"mark":{"type":"text","align":"right","fontWeight":"bold"},"encoding":{"x":{"datum":2,"type":"quantitative","scale":{"domain":[0,1,2,3,4,5,6,7,8,9,10,11,12,13],"range":[69,92,540,636,737,814,914,1150,541,726,1037,1057,1792,11.5],"nice":false,"zero":false},"axis":null},"y":{"datum":-1,"type":"quantitative","scale":{"domain":[-5.046,11.477],"reverse":true,"nice":false,"zero":false},"axis":null},"text":{"value":"Events"}}},
{"data":{"values":[{}]},"mark":{"type":"text","align":"right","fontWeight":"bold"},"encoding":{"x":{"datum":3,"type":"quantitative","scale":{"domain":[0,1,2,3,4,5,6,7,8,9,10,11,12,13],"range":[69,92,540,636,737,814,914,1150,541,726,1037,1057,1792,11.5],"nice":false,"zero":false},"axis":null},"y":{"datum":-1,"type":"quantitative","scale":{"domain":[-5.046,11.477],"reverse":true,"nice":false,"zero":false},"axis":null},"text":{"value":"Total"}}},
{"data":{"values":[{}]},"mark":{"type":"text","align":"right","fontWeight":"bold"},"encoding":{"x":{"datum":4,"type":"quantitative","scale":{"domain":[0,1,2,3,4,5,6,7,8,9,10,11,12,13],"range":[69,92,540,636,737,814,914,1150,541,726,1037,1057,1792,11.5],"nice":false,"zero":false},"axis":null},"y":{"datum":-1,"type":"quantitative","scale":{"domain":[-5.046,11.477],"reverse":true,"nice":false,"zero":false},"axis":null},"text":{"value":"Events"}}},
{"data":{"values":[{}]},"mark":{"type":"text","align":"right","fontWeight":"bold"},"encoding":{"x":{"datum":5,"type":"quantitative","scale":{"domain":[0,1,2,3,4,5,6,7,8,9,10,11,12,13],"range":[69,92,540,636,737,814,914,1150,541,726,1037,1057,1792,11.5],"nice":false,"zero":false},"axis":null},"y":{"datum":-1,"type":"quantitative","scale":{"domain":[-5.046,11.477],"reverse":true,"nice":false,"zero":false},"axis":null},"text":{"value":"Total"}}},
{"data":{"values":[{}]},"mark":{"type":"text","align":"right","fontWeight":"bold"},"encoding":{"x":{"datum":6,"type":"quantitative","scale":{"domain":[0,1,2,3,4,5,6,7,8,9,10,11,12,13],"range":[69,92,540,636,737,814,914,1150,541,726,1037,1057,1792,11.5],"nice":false,"zero":false},"axis":null},"y":{"datum":-1,"type":"quantitative","scale":{"domain":[-5.046,11.477],"reverse":true,"nice":false,"zero":false},"axis":null},"text":{"value":"Weight"}}},
{"data":{"values":[{}]},"mark":{"type":"text","align":"center","fontWeight":"bold"},"encoding":{"x":{"datum":11,"type":"quantitative","scale":{"domain":[0,1,2,3,4,5,6,7,8,9,10,11,12,13],"range":[69,92,540,636,737,814,914,1150,541,726,1037,1057,1792,11.5],"nice":false,"zero":false},"axis":null},"y":{"datum":-1,"type":"quantitative","scale":{"domain":[-5.046,11.477],"reverse":true,"nice":false,"zero":false},"axis":null},"text":{"value":"M-H, Fixed, 95% CI"}}},
{"transform":[{"filter":"datum.k=='st'||datum.k=='ev'||datum.k=='nt'"}],"mark":{"type":"text","align":"left","clip":true},"encoding":{"x":{"datum":1,"type":"quantitative","scale":{"domain":[0,1,2,3,4,5,6,7,8,9,10,11,12,13],"range":[69,92,540,636,737,814,914,1150,541,726,1037,1057,1792,11.5],"nice":false,"zero":false},"axis":null},"y":{"field":"r","type":"quantitative","scale":{"domain":[-5.046,11.477],"reverse":true,"nice":false,"zero":false},"axis":null},"text":{"field":"l","type":"nominal"}}},
{"transform":[{"filter":"datum.k=='grp'||datum.k=='sub'||datum.k=='tot'"}],"mark":{"type":"text","align":"left","fontWeight":"bold","clip":true},"encoding":{"x":{"datum":1,"type":"quantitative","scale":{"domain":[0,1,2,3,4,5,6,7,8,9,10,11,12,13],"range":[69,92,540,636,737,814,914,1150,541,726,1037,1057,1792,11.5],"nice":false,"zero":false},"axis":null},"y":{"field":"r","type":"quantitative","scale":{"domain":[-5.046,11.477],"reverse":true,"nice":false,"zero":false},"axis":null},"text":{"field":"l","type":"nominal"}}},
{"transform":[{"filter":"isValid(datum.ee)"}],"mark":{"type":"text","align":"right"},"encoding":{"x":{"datum":2,"type":"quantitative","scale":{"domain":[0,1,2,3,4,5,6,7,8,9,10,11,12,13],"range":[69,92,540,636,737,814,914,1150,541,726,1037,1057,1792,11.5],"nice":false,"zero":false},"axis":null},"y":{"field":"r","type":"quantitative","scale":{"domain":[-5.046,11.477],"reverse":true,"nice":false,"zero":false},"axis":null},"text":{"field":"ee","type":"nominal"}}},
{"transform":[{"filter":"datum.k=='st'"}],"mark":{"type":"text","align":"right"},"encoding":{"x":{"datum":3,"type":"quantitative","scale":{"domain":[0,1,2,3,4,5,6,7,8,9,10,11,12,13],"range":[69,92,540,636,737,814,914,1150,541,726,1037,1057,1792,11.5],"nice":false,"zero":false},"axis":null},"y":{"field":"r","type":"quantitative","scale":{"domain":[-5.046,11.477],"reverse":true,"nice":false,"zero":false},"axis":null},"text":{"field":"et","type":"nominal"}}},
{"transform":[{"filter":"datum.k=='sub'||datum.k=='tot'"}],"mark":{"type":"text","align":"right","fontWeight":"bold"},"encoding":{"x":{"datum":3,"type":"quantitative","scale":{"domain":[0,1,2,3,4,5,6,7,8,9,10,11,12,13],"range":[69,92,540,636,737,814,914,1150,541,726,1037,1057,1792,11.5],"nice":false,"zero":false},"axis":null},"y":{"field":"r","type":"quantitative","scale":{"domain":[-5.046,11.477],"reverse":true,"nice":false,"zero":false},"axis":null},"text":{"field":"et","type":"nominal"}}},
{"transform":[{"filter":"isValid(datum.ce)"}],"mark":{"type":"text","align":"right"},"encoding":{"x":{"datum":4,"type":"quantitative","scale":{"domain":[0,1,2,3,4,5,6,7,8,9,10,11,12,13],"range":[69,92,540,636,737,814,914,1150,541,726,1037,1057,1792,11.5],"nice":false,"zero":false},"axis":null},"y":{"field":"r","type":"quantitative","scale":{"domain":[-5.046,11.477],"reverse":true,"nice":false,"zero":false},"axis":null},"text":{"field":"ce","type":"nominal"}}},
{"transform":[{"filter":"datum.k=='st'"}],"mark":{"type":"text","align":"right"},"encoding":{"x":{"datum":5,"type":"quantitative","scale":{"domain":[0,1,2,3,4,5,6,7,8,9,10,11,12,13],"range":[69,92,540,636,737,814,914,1150,541,726,1037,1057,1792,11.5],"nice":false,"zero":false},"axis":null},"y":{"field":"r","type":"quantitative","scale":{"domain":[-5.046,11.477],"reverse":true,"nice":false,"zero":false},"axis":null},"text":{"field":"ct","type":"nominal"}}},
{"transform":[{"filter":"datum.k=='sub'||datum.k=='tot'"}],"mark":{"type":"text","align":"right","fontWeight":"bold"},"encoding":{"x":{"datum":5,"type":"quantitative","scale":{"domain":[0,1,2,3,4,5,6,7,8,9,10,11,12,13],"range":[69,92,540,636,737,814,914,1150,541,726,1037,1057,1792,11.5],"nice":false,"zero":false},"axis":null},"y":{"field":"r","type":"quantitative","scale":{"domain":[-5.046,11.477],"reverse":true,"nice":false,"zero":false},"axis":null},"text":{"field":"ct","type":"nominal"}}},
{"transform":[{"filter":"datum.k=='st'"}],"mark":{"type":"text","align":"right"},"encoding":{"x":{"datum":6,"type":"quantitative","scale":{"domain":[0,1,2,3,4,5,6,7,8,9,10,11,12,13],"range":[69,92,540,636,737,814,914,1150,541,726,1037,1057,1792,11.5],"nice":false,"zero":false},"axis":null},"y":{"field":"r","type":"quantitative","scale":{"domain":[-5.046,11.477],"reverse":true,"nice":false,"zero":false},"axis":null},"text":{"field":"w","type":"quantitative","format":".1%"}}},
{"transform":[{"filter":"datum.k=='sub'||datum.k=='tot'"}],"mark":{"type":"text","align":"right","fontWeight":"bold"},"encoding":{"x":{"datum":6,"type":"quantitative","scale":{"domain":[0,1,2,3,4,5,6,7,8,9,10,11,12,13],"range":[69,92,540,636,737,814,914,1150,541,726,1037,1057,1792,11.5],"nice":false,"zero":false},"axis":null},"y":{"field":"r","type":"quantitative","scale":{"domain":[-5.046,11.477],"reverse":true,"nice":false,"zero":false},"axis":null},"text":{"field":"w","type":"quantitative","format":".1%"}}},
{"transform":[{"filter":"datum.k=='st'"}],"mark":{"type":"text","align":"right"},"encoding":{"x":{"datum":7,"type":"quantitative","scale":{"domain":[0,1,2,3,4,5,6,7,8,9,10,11,12,13],"range":[69,92,540,636,737,814,914,1150,541,726,1037,1057,1792,11.5],"nice":false,"zero":false},"axis":null},"y":{"field":"r","type":"quantitative","scale":{"domain":[-5.046,11.477],"reverse":true,"nice":false,"zero":false},"axis":null},"text":{"field":"ci","type":"nominal"}}},
{"transform":[{"filter":"datum.k=='sub'||datum.k=='tot'"}],"mark":{"type":"text","align":"right","fontWeight":"bold"},"encoding":{"x":{"datum":7,"type":"quantitative","scale":{"domain":[0,1,2,3,4,5,6,7,8,9,10,11,12,13],"range":[69,92,540,636,737,814,914,1150,541,726,1037,1057,1792,11.5],"nice":false,"zero":false},"axis":null},"y":{"field":"r","type":"quantitative","scale":{"domain":[-5.046,11.477],"reverse":true,"nice":false,"zero":false},"axis":null},"text":{"field":"ci","type":"nominal"}}}
]},
{"layer":[
{"data":{"values":[{}]},"mark":{"type":"rule","strokeWidth":2,"color":"#111111"},"encoding":{"x":{"datum":1,"type":"quantitative","scale":{"type":"log","domain":[0.01,100],"range":[1174.7,1770.3],"clamp":true,"nice":false},"axis":{"values":[0.01,0.1,1,10,100],"format":"~g","domain":false,"grid":false,"ticks":true,"tickSize":15,"tickWidth":2,"tickColor":"#111111","labelFont":"Liberation Sans","labelFontSize":24,"labelColor":"#1a1a1a","labelPadding":7,"labelFlush":2,"labelOverlap":false,"offset":-82.5,"title":null,"orient":"bottom"}},"y":{"datum":-0.43,"type":"quantitative","scale":{"domain":[-5.046,11.477],"reverse":true,"nice":false,"zero":false},"axis":null},"y2":{"datum":9.17}}},
{"data":{"values":[{}]},"mark":{"type":"rule","strokeWidth":2.5,"color":"#111111"},"encoding":{"x":{"datum":0.01,"type":"quantitative","scale":{"type":"log","domain":[0.01,100],"range":[1174.7,1770.3],"clamp":true,"nice":false},"axis":{"values":[0.01,0.1,1,10,100],"format":"~g","domain":false,"grid":false,"ticks":true,"tickSize":15,"tickWidth":2,"tickColor":"#111111","labelFont":"Liberation Sans","labelFontSize":24,"labelColor":"#1a1a1a","labelPadding":7,"labelFlush":2,"labelOverlap":false,"offset":-82.5,"title":null,"orient":"bottom"}},"x2":{"datum":100},"y":{"datum":9.17,"type":"quantitative","scale":{"domain":[-5.046,11.477],"reverse":true,"nice":false,"zero":false},"axis":null}}},
{"transform":[{"filter":"datum.k=='st'&&datum.w>0"}],"mark":{"type":"rule","strokeWidth":2,"color":"#111111"},"encoding":{"x":{"field":"lo","type":"quantitative","scale":{"type":"log","domain":[0.01,100],"range":[1174.7,1770.3],"clamp":true,"nice":false},"axis":{"values":[0.01,0.1,1,10,100],"format":"~g","domain":false,"grid":false,"ticks":true,"tickSize":15,"tickWidth":2,"tickColor":"#111111","labelFont":"Liberation Sans","labelFontSize":24,"labelColor":"#1a1a1a","labelPadding":7,"labelFlush":2,"labelOverlap":false,"offset":-82.5,"title":null,"orient":"bottom"}},"x2":{"field":"hi"},"y":{"field":"r","type":"quantitative","scale":{"domain":[-5.046,11.477],"reverse":true,"nice":false,"zero":false},"axis":null}}},
{"transform":[{"filter":"datum.k=='st'&&datum.w>0"}],"mark":{"type":"square","filled":true,"color":"#0000cc","opacity":1,"yOffset":2},"encoding":{"x":{"field":"rr","type":"quantitative","scale":{"type":"log","domain":[0.01,100],"range":[1174.7,1770.3],"clamp":true,"nice":false},"axis":{"values":[0.01,0.1,1,10,100],"format":"~g","domain":false,"grid":false,"ticks":true,"tickSize":15,"tickWidth":2,"tickColor":"#111111","labelFont":"Liberation Sans","labelFontSize":24,"labelColor":"#1a1a1a","labelPadding":7,"labelFlush":2,"labelOverlap":false,"offset":-82.5,"title":null,"orient":"bottom"}},"y":{"field":"r","type":"quantitative","scale":{"domain":[-5.046,11.477],"reverse":true,"nice":false,"zero":false},"axis":null},"size":{"field":"w","type":"quantitative","scale":{"domain":[0,0.494],"range":[0,390]},"legend":null}}},
{"data":{"values":[{}]},"mark":{"type":"text","align":"center","fontWeight":"bold","dx":3},"encoding":{"x":{"datum":1,"type":"quantitative","scale":{"type":"log","domain":[0.01,100],"range":[1174.7,1770.3],"clamp":true,"nice":false},"axis":{"values":[0.01,0.1,1,10,100],"format":"~g","domain":false,"grid":false,"ticks":true,"tickSize":15,"tickWidth":2,"tickColor":"#111111","labelFont":"Liberation Sans","labelFontSize":24,"labelColor":"#1a1a1a","labelPadding":7,"labelFlush":2,"labelOverlap":false,"offset":-82.5,"title":null,"orient":"bottom"}},"y":{"datum":-2,"type":"quantitative","scale":{"domain":[-5.046,11.477],"reverse":true,"nice":false,"zero":false},"axis":null},"text":{"value":"Risk Ratio"}}},
{"data":{"values":[{}]},"mark":{"type":"text","align":"center","fontWeight":"bold","dx":3},"encoding":{"x":{"datum":1,"type":"quantitative","scale":{"type":"log","domain":[0.01,100],"range":[1174.7,1770.3],"clamp":true,"nice":false},"axis":{"values":[0.01,0.1,1,10,100],"format":"~g","domain":false,"grid":false,"ticks":true,"tickSize":15,"tickWidth":2,"tickColor":"#111111","labelFont":"Liberation Sans","labelFontSize":24,"labelColor":"#1a1a1a","labelPadding":7,"labelFlush":2,"labelOverlap":false,"offset":-82.5,"title":null,"orient":"bottom"}},"y":{"datum":-1,"type":"quantitative","scale":{"domain":[-5.046,11.477],"reverse":true,"nice":false,"zero":false},"axis":null},"text":{"value":"M-H, Fixed, 95% CI"}}},
{"data":{"values":[{}]},"mark":{"type":"text","align":"right","dx":-15,"dy":63},"encoding":{"x":{"datum":1,"type":"quantitative","scale":{"type":"log","domain":[0.01,100],"range":[1174.7,1770.3],"clamp":true,"nice":false},"axis":{"values":[0.01,0.1,1,10,100],"format":"~g","domain":false,"grid":false,"ticks":true,"tickSize":15,"tickWidth":2,"tickColor":"#111111","labelFont":"Liberation Sans","labelFontSize":24,"labelColor":"#1a1a1a","labelPadding":7,"labelFlush":2,"labelOverlap":false,"offset":-82.5,"title":null,"orient":"bottom"}},"y":{"datum":9.17,"type":"quantitative","scale":{"domain":[-5.046,11.477],"reverse":true,"nice":false,"zero":false},"axis":null},"text":{"value":"Favours [experimental]"}}},
{"data":{"values":[{}]},"mark":{"type":"text","align":"left","dx":12,"dy":63},"encoding":{"x":{"datum":1,"type":"quantitative","scale":{"type":"log","domain":[0.01,100],"range":[1174.7,1770.3],"clamp":true,"nice":false},"axis":{"values":[0.01,0.1,1,10,100],"format":"~g","domain":false,"grid":false,"ticks":true,"tickSize":15,"tickWidth":2,"tickColor":"#111111","labelFont":"Liberation Sans","labelFontSize":24,"labelColor":"#1a1a1a","labelPadding":7,"labelFlush":2,"labelOverlap":false,"offset":-82.5,"title":null,"orient":"bottom"}},"y":{"datum":9.17,"type":"quantitative","scale":{"domain":[-5.046,11.477],"reverse":true,"nice":false,"zero":false},"axis":null},"text":{"value":"Favours [control]"}}}
]},
{"data":{"name":"dC"},"resolve":{"scale":{"yOffset":"independent"}},"layer":[
{"mark":{"type":"line","color":"#000000","fill":"#000000","strokeWidth":1},"encoding":{"x":{"field":"x","type":"quantitative","scale":{"type":"log","domain":[0.01,100],"range":[1174.7,1770.3],"clamp":true,"nice":false},"axis":null},"y":{"field":"r","type":"ordinal","scale":{"type":"point","domain":[0,1,2,3,4,5,6,7,8,9,10],"range":[164,489],"padding":0},"axis":null},"yOffset":{"field":"v","type":"nominal","scale":{"type":"point","domain":["end","apex"],"range":[0,-14],"padding":0}},"detail":{"field":"r","type":"nominal"},"order":{"field":"x","type":"quantitative"}}},
{"mark":{"type":"line","color":"#000000","fill":"#000000","strokeWidth":1},"encoding":{"x":{"field":"x","type":"quantitative","scale":{"type":"log","domain":[0.01,100],"range":[1174.7,1770.3],"clamp":true,"nice":false},"axis":null},"y":{"field":"r","type":"ordinal","scale":{"type":"point","domain":[0,1,2,3,4,5,6,7,8,9,10],"range":[164,489],"padding":0},"axis":null},"yOffset":{"field":"v","type":"nominal","scale":{"type":"point","domain":["end","apex"],"range":[0,14],"padding":0}},"detail":{"field":"r","type":"nominal"},"order":{"field":"x","type":"quantitative"}}}
]}
]
}
]
}
